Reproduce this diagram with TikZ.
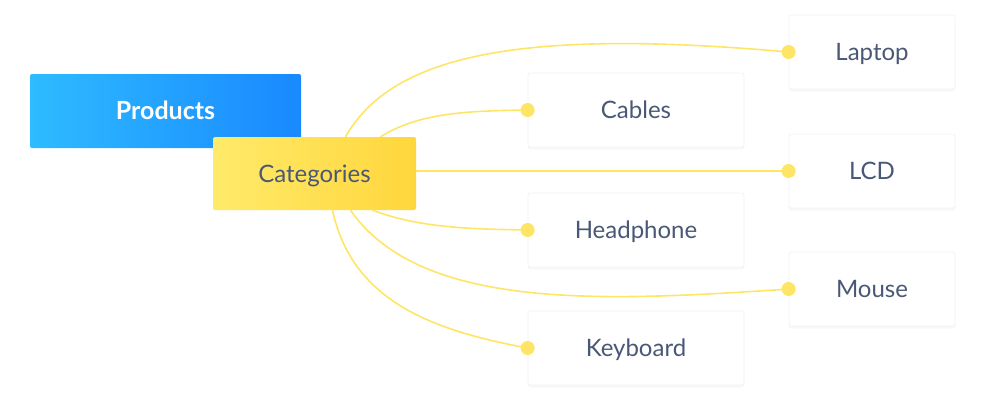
\documentclass[tikz,border=0pt]{standalone}
\usepackage{fontspec}
\setmainfont{Lato}
\usetikzlibrary{shadows,calc}
\definecolor{txt}{HTML}{4A5877}
\definecolor{lineY}{HTML}{FFE566}
\definecolor{blueL}{HTML}{2EBBFF}
\definecolor{blueR}{HTML}{1989FF}
\definecolor{yelL}{HTML}{FFEA6A}
\definecolor{yelR}{HTML}{FFD63C}
\definecolor{edge}{HTML}{F1F2F6}
\tikzset{
  lbl/.style={font=\fontsize{24}{28}\selectfont, text height=17pt, text depth=0pt, inner sep=0pt},
  leaf/.style={lbl, rectangle, rounded corners=2pt, fill=white, draw=edge, line width=0.8pt,
    minimum width=216, minimum height=74, text=txt,
    drop shadow={opacity=0.06, shadow xshift=0pt, shadow yshift=-2.5pt}},
  leafR/.style={leaf, minimum width=166},
  conn/.style={draw=lineY, line width=1.6pt},
  dot/.style={circle, fill=lineY, inner sep=0pt, minimum size=14}
}
\begin{document}
\begin{tikzpicture}[x=1pt,y=-1pt]
\useasboundingbox (0,0) rectangle (1000,400);
% root
\node[lbl, rectangle, rounded corners=2pt, minimum width=271, minimum height=74, left color=blueL, right color=blueR,
  text=white, font=\fontsize{25}{28}\selectfont\bfseries] (prod) at (165.5,111) {Products};
\node[lbl, rectangle, rounded corners=2pt, minimum width=203, minimum height=73, left color=yelL, right color=yelR,
  text=txt] (cat) at (314.5,173.5) {Categories};
% leaves
\node[leafR] (laptop) at (872,52) {Laptop};
\node[leaf] (cables) at (636,110) {Cables};
\node[leafR] (lcd) at (872,171) {LCD};
\node[leaf] (head) at (636,230) {Headphone};
\node[leafR] (mouse) at (872,289) {Mouse};
\node[leaf] (key) at (636,348) {Keyboard};
% start points on Categories
\coordinate (s1) at ($(cat.north)+(31,0)$);
\coordinate (s2) at ($(cat.north)+(66,0)$);
\coordinate (s3) at (cat.east |- lcd.west);
\coordinate (s4) at ($(cat.south)+(58,0)$);
\coordinate (s5) at ($(cat.south)+(36,0)$);
\coordinate (s6) at ($(cat.south)+(18,0)$);
% connectors
\draw[conn] (s1) .. controls (392,55) and (520,28) .. (laptop.west);
\draw[conn] (s2) .. controls (420,112) and (470,111) .. (cables.west);
\draw[conn] (s3) -- (lcd.west);
\draw[conn] (s4) .. controls (420,228) and (470,229) .. (head.west);
\draw[conn] (s5) .. controls (420,310) and (600,302) .. (mouse.west);
\draw[conn] (s6) .. controls (352,300) and (430,330) .. (key.west);
% dots
\node[dot] (d1) at (laptop.west) {};
\node[dot] (d2) at (cables.west) {};
\node[dot] (d3) at (lcd.west) {};
\node[dot] (d4) at (head.west) {};
\node[dot] (d5) at (mouse.west) {};
\node[dot] (d6) at (key.west) {};
\end{tikzpicture}
\end{document}
